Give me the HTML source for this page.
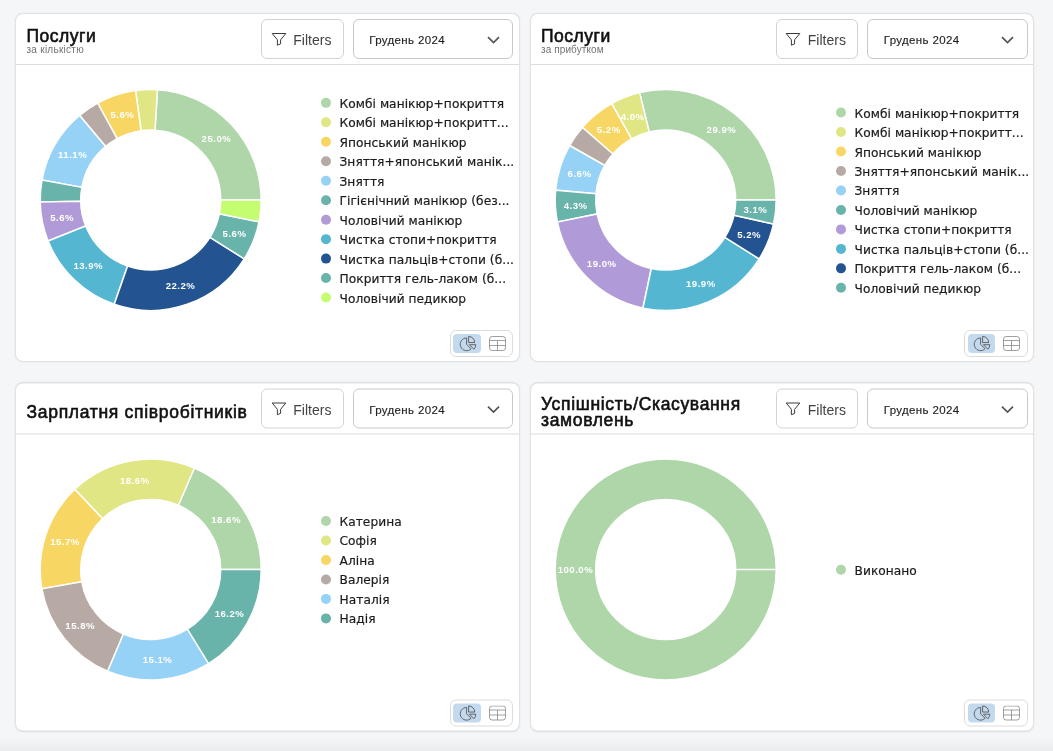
<!DOCTYPE html>
<html lang="uk"><head><meta charset="utf-8"><title>Dashboard</title>
<style>
*{box-sizing:border-box;margin:0;padding:0}
html,body{width:1053px;height:751px;overflow:hidden}
body{background:#f5f6f8;font-family:"Liberation Sans",sans-serif;position:relative;color:#161616}
.fade{position:absolute;left:0;right:0;bottom:0;height:14px;background:linear-gradient(to bottom,rgba(0,0,0,0),rgba(0,0,0,0.045))}
.card{position:absolute;width:504.5px;height:348.5px;background:#fff;border:1px solid #e0e2e5;border-radius:8px;box-shadow:0 0 1.5px rgba(0,0,0,0.10)}
.head{position:absolute;left:0;right:0;top:0;height:51px;border-bottom:1px solid #dcdcdc}
.ht{position:absolute;left:10.5px;top:12.75px}
.title{font-size:17.5px;line-height:18px;font-weight:400;color:#111;-webkit-text-stroke:0.6px #111;letter-spacing:0.5px;white-space:nowrap}
.sub{font-size:10px;line-height:11px;color:#737373;margin-top:-0.7px;letter-spacing:0.27px;white-space:nowrap}
.ht.nosub{top:18.5px}
.ls7{letter-spacing:0.7px}
.ls65{letter-spacing:0.66px}
.title.two{line-height:16px;margin-top:-6.4px}
.btn{position:absolute;left:245px;top:5px;width:82.5px;height:40px;border:1px solid #d3d3d3;border-radius:6px;background:#fff}
.btn .fi{position:absolute;left:8.6px;top:11px}
.btn span{position:absolute;left:31.2px;top:12.1px;font-size:14px;line-height:16px;color:#424242;letter-spacing:0.02px}
.sel{position:absolute;left:336.5px;top:5px;width:160.5px;height:40px;border:1px solid #c8c8c8;border-radius:6px;background:#fff}
.sel span{position:absolute;left:15.8px;top:13px;font-size:11.5px;line-height:14px;color:#1f1f1f;-webkit-text-stroke:0.15px #1f1f1f;letter-spacing:0.35px;white-space:nowrap}
.sel .chev{position:absolute;left:133px;top:15.8px}
.body{position:absolute;left:0;right:0;top:51px;bottom:0}
.chart{position:absolute;left:0;top:0}
.pl{font-family:"Liberation Sans",sans-serif;font-weight:700;font-size:9.6px;fill:#fff;text-anchor:middle;dominant-baseline:central;letter-spacing:0.5px}
.lt{font-family:"DejaVu Sans","Liberation Sans",sans-serif;font-size:12.2px;fill:#1c1c1c;letter-spacing:0.05px;stroke:#1c1c1c;stroke-width:0.2px}
.tog{position:absolute;left:433.5px;top:265px;width:63.5px;height:26.5px;border:1px solid #dcdcdc;border-radius:6px;background:#fff}
.tb{position:absolute;top:2.5px;width:27.5px;height:19.8px;border-radius:4px}
.tb.act{left:2.5px;background:#c3d9ee}
.tb.act svg{position:absolute;left:5.5px;top:1.2px}
.tb+.tb{left:33px}
.tb+.tb svg{position:absolute;left:5px;top:2.5px}
</style></head>
<body>
<div class="card" style="left:15px;top:13px">
<div class="head">
<div class="ht"><div class="title">Послуги</div><div class="sub">за кількістю</div></div>
<div class="btn"><svg class="fi" viewBox="0 0 16 16" width="16" height="16"><path d="M1.2 2.5h13.6L9.6 8.8v4.1l-3.2 1.3V8.8z" fill="none" stroke="#3a3a3a" stroke-width="1" stroke-linejoin="round"/></svg><span>Filters</span></div>
<div class="sel"><span>Грудень 2024</span><svg class="chev" viewBox="0 0 13 8" width="13" height="8"><path d="M1 1.2l5.5 5.3 5.5-5.3" fill="none" stroke="#555" stroke-width="1.7" stroke-linecap="butt"/></svg></div>
</div>
<div class="body">
<svg class="chart" width="502" height="290" viewBox="0 0 502 290">
<path d="M245.20,135.00A110.5,110.5,0,0,0,141.45,24.71L138.97,65.13A70.0,70.0,0,0,1,204.70,135.00Z" fill="#aed6a9" stroke="#fff" stroke-width="1.5" stroke-linejoin="miter"/>
<path d="M141.45,24.71A110.5,110.5,0,0,0,119.53,25.55L125.09,65.66A70.0,70.0,0,0,1,138.97,65.13Z" fill="#e0e684" stroke="#fff" stroke-width="1.5" stroke-linejoin="miter"/>
<path d="M119.53,25.55A110.5,110.5,0,0,0,81.69,38.04L101.12,73.58A70.0,70.0,0,0,1,125.09,65.66Z" fill="#f7d664" stroke="#fff" stroke-width="1.5" stroke-linejoin="miter"/>
<path d="M81.69,38.04A110.5,110.5,0,0,0,63.59,50.42L89.65,81.42A70.0,70.0,0,0,1,101.12,73.58Z" fill="#b7aaa5" stroke="#fff" stroke-width="1.5" stroke-linejoin="miter"/>
<path d="M63.59,50.42A110.5,110.5,0,0,0,26.01,115.07L65.85,122.38A70.0,70.0,0,0,1,89.65,81.42Z" fill="#96d2f6" stroke="#fff" stroke-width="1.5" stroke-linejoin="miter"/>
<path d="M26.01,115.07A110.5,110.5,0,0,0,24.22,136.93L64.71,136.22A70.0,70.0,0,0,1,65.85,122.38Z" fill="#68b4aa" stroke="#fff" stroke-width="1.5" stroke-linejoin="miter"/>
<path d="M24.22,136.93A110.5,110.5,0,0,0,32.09,176.00L69.70,160.97A70.0,70.0,0,0,1,64.71,136.22Z" fill="#b09bd8" stroke="#fff" stroke-width="1.5" stroke-linejoin="miter"/>
<path d="M32.09,176.00A110.5,110.5,0,0,0,98.22,239.30L111.59,201.08A70.0,70.0,0,0,1,69.70,160.97Z" fill="#55b6d2" stroke="#fff" stroke-width="1.5" stroke-linejoin="miter"/>
<path d="M98.22,239.30A110.5,110.5,0,0,0,228.24,193.83L193.96,172.27A70.0,70.0,0,0,1,111.59,201.08Z" fill="#235391" stroke="#fff" stroke-width="1.5" stroke-linejoin="miter"/>
<path d="M228.24,193.83A110.5,110.5,0,0,0,243.02,156.82L203.32,148.82A70.0,70.0,0,0,1,193.96,172.27Z" fill="#68b4aa" stroke="#fff" stroke-width="1.5" stroke-linejoin="miter"/>
<path d="M243.02,156.82A110.5,110.5,0,0,0,245.20,135.00L204.70,135.00A70.0,70.0,0,0,1,203.32,148.82Z" fill="#c4fd6f" stroke="#fff" stroke-width="1.5" stroke-linejoin="miter"/>
<text x="200.44" y="73.16" class="pl">25.0%</text>
<text x="106.40" y="49.30" class="pl">5.6%</text>
<text x="56.67" y="89.65" class="pl">11.1%</text>
<text x="46.23" y="152.82" class="pl">5.6%</text>
<text x="72.29" y="200.19" class="pl">13.9%</text>
<text x="164.50" y="220.19" class="pl">22.2%</text>
<text x="218.51" y="168.48" class="pl">5.6%</text>
<circle cx="310" cy="37.85" r="5" fill="#aed6a9"/><text x="323.5" y="42.85" class="lt">Комбі манікюр+покриття</text>
<circle cx="310" cy="57.32" r="5" fill="#e0e684"/><text x="323.5" y="62.32" class="lt">Комбі манікюр+покритт...</text>
<circle cx="310" cy="76.79" r="5" fill="#f7d664"/><text x="323.5" y="81.79" class="lt">Японський манікюр</text>
<circle cx="310" cy="96.26" r="5" fill="#b7aaa5"/><text x="323.5" y="101.26" class="lt">Зняття+японський манік...</text>
<circle cx="310" cy="115.73" r="5" fill="#96d2f6"/><text x="323.5" y="120.73" class="lt">Зняття</text>
<circle cx="310" cy="135.20" r="5" fill="#68b4aa"/><text x="323.5" y="140.20" class="lt">Гігієнічний манікюр (без...</text>
<circle cx="310" cy="154.67" r="5" fill="#b09bd8"/><text x="323.5" y="159.67" class="lt">Чоловічий манікюр</text>
<circle cx="310" cy="174.14" r="5" fill="#55b6d2"/><text x="323.5" y="179.14" class="lt">Чистка стопи+покриття</text>
<circle cx="310" cy="193.61" r="5" fill="#235391"/><text x="323.5" y="198.61" class="lt">Чистка пальців+стопи (б...</text>
<circle cx="310" cy="213.08" r="5" fill="#68b4aa"/><text x="323.5" y="218.08" class="lt">Покриття гель-лаком (б...</text>
<circle cx="310" cy="232.55" r="5" fill="#c4fd6f"/><text x="323.5" y="237.55" class="lt">Чоловічий педикюр</text>
</svg>
<div class="tog"><div class="tb act"><svg viewBox="0 0 18 18" width="18" height="18"><g fill="none" stroke="#585858" stroke-width="0.9" stroke-linejoin="round"><path d="M7.6 2.95A6.35 6.35 0 1 0 12.09 13.79L7.6 9.3z"/><path d="M9.6 1.45v6.1h6.1a6.1 6.1 0 0 0-6.1-6.1z"/><path d="M10.4 9.7h6.4a6.4 6.4 0 0 1-1.87 4.53z"/></g></svg></div><div class="tb"><svg viewBox="0 0 18 16" width="18" height="16"><g fill="none" stroke="#808080" stroke-width="0.75"><rect x="0.5" y="0.5" width="16" height="14" rx="2.6"/><path d="M0.5 4.5h16M0.5 9.5h16M8.5 4.5v10"/></g></svg></div></div>
</div>
</div>
<div class="card" style="left:529.5px;top:13px">
<div class="head">
<div class="ht"><div class="title">Послуги</div><div class="sub" style="letter-spacing:0.1px">за прибутком</div></div>
<div class="btn"><svg class="fi" viewBox="0 0 16 16" width="16" height="16"><path d="M1.2 2.5h13.6L9.6 8.8v4.1l-3.2 1.3V8.8z" fill="none" stroke="#3a3a3a" stroke-width="1" stroke-linejoin="round"/></svg><span>Filters</span></div>
<div class="sel"><span>Грудень 2024</span><svg class="chev" viewBox="0 0 13 8" width="13" height="8"><path d="M1 1.2l5.5 5.3 5.5-5.3" fill="none" stroke="#555" stroke-width="1.7" stroke-linecap="butt"/></svg></div>
</div>
<div class="body">
<svg class="chart" width="502" height="290" viewBox="0 0 502 290">
<path d="M245.20,135.00A110.5,110.5,0,0,0,108.60,27.63L118.17,66.98A70.0,70.0,0,0,1,204.70,135.00Z" fill="#aed6a9" stroke="#fff" stroke-width="1.5" stroke-linejoin="miter"/>
<path d="M108.60,27.63A110.5,110.5,0,0,0,80.69,38.60L100.49,73.93A70.0,70.0,0,0,1,118.17,66.98Z" fill="#e0e684" stroke="#fff" stroke-width="1.5" stroke-linejoin="miter"/>
<path d="M80.69,38.60A110.5,110.5,0,0,0,51.38,62.42L81.92,89.02A70.0,70.0,0,0,1,100.49,73.93Z" fill="#f7d664" stroke="#fff" stroke-width="1.5" stroke-linejoin="miter"/>
<path d="M51.38,62.42A110.5,110.5,0,0,0,38.56,80.52L73.80,100.49A70.0,70.0,0,0,1,81.92,89.02Z" fill="#b7aaa5" stroke="#fff" stroke-width="1.5" stroke-linejoin="miter"/>
<path d="M38.56,80.52A110.5,110.5,0,0,0,24.64,125.18L64.98,128.78A70.0,70.0,0,0,1,73.80,100.49Z" fill="#96d2f6" stroke="#fff" stroke-width="1.5" stroke-linejoin="miter"/>
<path d="M24.64,125.18A110.5,110.5,0,0,0,26.43,157.07L66.11,148.98A70.0,70.0,0,0,1,64.98,128.78Z" fill="#68b4aa" stroke="#fff" stroke-width="1.5" stroke-linejoin="miter"/>
<path d="M26.43,157.07A110.5,110.5,0,0,0,111.95,243.13L120.29,203.50A70.0,70.0,0,0,1,66.11,148.98Z" fill="#b09bd8" stroke="#fff" stroke-width="1.5" stroke-linejoin="miter"/>
<path d="M111.95,243.13A110.5,110.5,0,0,0,228.18,193.92L193.92,172.32A70.0,70.0,0,0,1,120.29,203.50Z" fill="#55b6d2" stroke="#fff" stroke-width="1.5" stroke-linejoin="miter"/>
<path d="M228.18,193.92A110.5,110.5,0,0,0,242.56,158.99L203.03,150.20A70.0,70.0,0,0,1,193.92,172.32Z" fill="#235391" stroke="#fff" stroke-width="1.5" stroke-linejoin="miter"/>
<path d="M242.56,158.99A110.5,110.5,0,0,0,245.20,135.00L204.70,135.00A70.0,70.0,0,0,1,203.03,150.20Z" fill="#68b4aa" stroke="#fff" stroke-width="1.5" stroke-linejoin="miter"/>
<text x="190.47" y="64.05" class="pl">29.9%</text>
<text x="101.68" y="51.01" class="pl">4.0%</text>
<text x="77.78" y="64.96" class="pl">5.2%</text>
<text x="48.54" y="108.13" class="pl">6.6%</text>
<text x="44.59" y="140.05" class="pl">4.3%</text>
<text x="70.68" y="198.62" class="pl">19.0%</text>
<text x="169.89" y="218.11" class="pl">19.9%</text>
<text x="218.15" y="169.36" class="pl">5.2%</text>
<text x="224.41" y="144.86" class="pl">3.1%</text>
<circle cx="310" cy="47.58" r="5" fill="#aed6a9"/><text x="323.5" y="52.58" class="lt">Комбі манікюр+покриття</text>
<circle cx="310" cy="67.05" r="5" fill="#e0e684"/><text x="323.5" y="72.05" class="lt">Комбі манікюр+покритт...</text>
<circle cx="310" cy="86.52" r="5" fill="#f7d664"/><text x="323.5" y="91.52" class="lt">Японський манікюр</text>
<circle cx="310" cy="105.99" r="5" fill="#b7aaa5"/><text x="323.5" y="110.99" class="lt">Зняття+японський манік...</text>
<circle cx="310" cy="125.46" r="5" fill="#96d2f6"/><text x="323.5" y="130.46" class="lt">Зняття</text>
<circle cx="310" cy="144.94" r="5" fill="#68b4aa"/><text x="323.5" y="149.94" class="lt">Чоловічий манікюр</text>
<circle cx="310" cy="164.40" r="5" fill="#b09bd8"/><text x="323.5" y="169.40" class="lt">Чистка стопи+покриття</text>
<circle cx="310" cy="183.88" r="5" fill="#55b6d2"/><text x="323.5" y="188.88" class="lt">Чистка пальців+стопи (б...</text>
<circle cx="310" cy="203.34" r="5" fill="#235391"/><text x="323.5" y="208.34" class="lt">Покриття гель-лаком (б...</text>
<circle cx="310" cy="222.81" r="5" fill="#68b4aa"/><text x="323.5" y="227.81" class="lt">Чоловічий педикюр</text>
</svg>
<div class="tog"><div class="tb act"><svg viewBox="0 0 18 18" width="18" height="18"><g fill="none" stroke="#585858" stroke-width="0.9" stroke-linejoin="round"><path d="M7.6 2.95A6.35 6.35 0 1 0 12.09 13.79L7.6 9.3z"/><path d="M9.6 1.45v6.1h6.1a6.1 6.1 0 0 0-6.1-6.1z"/><path d="M10.4 9.7h6.4a6.4 6.4 0 0 1-1.87 4.53z"/></g></svg></div><div class="tb"><svg viewBox="0 0 18 16" width="18" height="16"><g fill="none" stroke="#808080" stroke-width="0.75"><rect x="0.5" y="0.5" width="16" height="14" rx="2.6"/><path d="M0.5 4.5h16M0.5 9.5h16M8.5 4.5v10"/></g></svg></div></div>
</div>
</div>
<div class="card" style="left:15px;top:382px;transform:translateY(0.5px)">
<div class="head">
<div class="ht nosub"><div class="title ls7">Зарплатня співробітників</div></div>
<div class="btn"><svg class="fi" viewBox="0 0 16 16" width="16" height="16"><path d="M1.2 2.5h13.6L9.6 8.8v4.1l-3.2 1.3V8.8z" fill="none" stroke="#3a3a3a" stroke-width="1" stroke-linejoin="round"/></svg><span>Filters</span></div>
<div class="sel"><span>Грудень 2024</span><svg class="chev" viewBox="0 0 13 8" width="13" height="8"><path d="M1 1.2l5.5 5.3 5.5-5.3" fill="none" stroke="#555" stroke-width="1.7" stroke-linecap="butt"/></svg></div>
</div>
<div class="body">
<svg class="chart" width="502" height="290" viewBox="0 0 502 290">
<path d="M245.20,135.00A110.5,110.5,0,0,0,178.36,33.49L162.36,70.70A70.0,70.0,0,0,1,204.70,135.00Z" fill="#aed6a9" stroke="#fff" stroke-width="1.5" stroke-linejoin="miter"/>
<path d="M178.36,33.49A110.5,110.5,0,0,0,58.70,54.79L86.55,84.19A70.0,70.0,0,0,1,162.36,70.70Z" fill="#e0e684" stroke="#fff" stroke-width="1.5" stroke-linejoin="miter"/>
<path d="M58.70,54.79A110.5,110.5,0,0,0,25.91,154.36L65.78,147.27A70.0,70.0,0,0,1,86.55,84.19Z" fill="#f7d664" stroke="#fff" stroke-width="1.5" stroke-linejoin="miter"/>
<path d="M25.91,154.36A110.5,110.5,0,0,0,91.66,236.77L107.43,199.47A70.0,70.0,0,0,1,65.78,147.27Z" fill="#b7aaa5" stroke="#fff" stroke-width="1.5" stroke-linejoin="miter"/>
<path d="M91.66,236.77A110.5,110.5,0,0,0,192.64,229.09L171.40,194.61A70.0,70.0,0,0,1,107.43,199.47Z" fill="#96d2f6" stroke="#fff" stroke-width="1.5" stroke-linejoin="miter"/>
<path d="M192.64,229.09A110.5,110.5,0,0,0,245.20,135.00L204.70,135.00A70.0,70.0,0,0,1,171.40,194.61Z" fill="#68b4aa" stroke="#fff" stroke-width="1.5" stroke-linejoin="miter"/>
<text x="210.08" y="85.37" class="pl">18.6%</text>
<text x="118.89" y="46.15" class="pl">18.6%</text>
<text x="48.98" y="106.77" class="pl">15.7%</text>
<text x="64.15" y="191.29" class="pl">15.8%</text>
<text x="141.55" y="224.99" class="pl">15.1%</text>
<text x="213.49" y="179.01" class="pl">16.2%</text>
<circle cx="310" cy="86.52" r="5" fill="#aed6a9"/><text x="323.5" y="91.52" class="lt">Катерина</text>
<circle cx="310" cy="105.99" r="5" fill="#e0e684"/><text x="323.5" y="110.99" class="lt">Софія</text>
<circle cx="310" cy="125.46" r="5" fill="#f7d664"/><text x="323.5" y="130.46" class="lt">Аліна</text>
<circle cx="310" cy="144.94" r="5" fill="#b7aaa5"/><text x="323.5" y="149.94" class="lt">Валерія</text>
<circle cx="310" cy="164.40" r="5" fill="#96d2f6"/><text x="323.5" y="169.40" class="lt">Наталія</text>
<circle cx="310" cy="183.88" r="5" fill="#68b4aa"/><text x="323.5" y="188.88" class="lt">Надія</text>
</svg>
<div class="tog"><div class="tb act"><svg viewBox="0 0 18 18" width="18" height="18"><g fill="none" stroke="#585858" stroke-width="0.9" stroke-linejoin="round"><path d="M7.6 2.95A6.35 6.35 0 1 0 12.09 13.79L7.6 9.3z"/><path d="M9.6 1.45v6.1h6.1a6.1 6.1 0 0 0-6.1-6.1z"/><path d="M10.4 9.7h6.4a6.4 6.4 0 0 1-1.87 4.53z"/></g></svg></div><div class="tb"><svg viewBox="0 0 18 16" width="18" height="16"><g fill="none" stroke="#808080" stroke-width="0.75"><rect x="0.5" y="0.5" width="16" height="14" rx="2.6"/><path d="M0.5 4.5h16M0.5 9.5h16M8.5 4.5v10"/></g></svg></div></div>
</div>
</div>
<div class="card" style="left:529.5px;top:382px;transform:translateY(0.5px)">
<div class="head">
<div class="ht nosub"><div class="title two ls65">Успішність/Скасування<br>замовлень</div></div>
<div class="btn"><svg class="fi" viewBox="0 0 16 16" width="16" height="16"><path d="M1.2 2.5h13.6L9.6 8.8v4.1l-3.2 1.3V8.8z" fill="none" stroke="#3a3a3a" stroke-width="1" stroke-linejoin="round"/></svg><span>Filters</span></div>
<div class="sel"><span>Грудень 2024</span><svg class="chev" viewBox="0 0 13 8" width="13" height="8"><path d="M1 1.2l5.5 5.3 5.5-5.3" fill="none" stroke="#555" stroke-width="1.7" stroke-linecap="butt"/></svg></div>
</div>
<div class="body">
<svg class="chart" width="502" height="290" viewBox="0 0 502 290">
<path d="M245.2,135.0A110.5,110.5,0,1,0,24.19999999999999,135.0A110.5,110.5,0,1,0,245.2,135.0L204.7,135.0A70.0,70.0,0,1,1,64.69999999999999,135.0A70.0,70.0,0,1,1,204.7,135.0Z" fill="#aed6a9" stroke="#fff" stroke-width="1.5" stroke-linejoin="miter"/>
<text x="44.45" y="135.00" class="pl">100.0%</text>
<circle cx="310" cy="135.20" r="5" fill="#aed6a9"/><text x="323.5" y="140.20" class="lt">Виконано</text>
</svg>
<div class="tog"><div class="tb act"><svg viewBox="0 0 18 18" width="18" height="18"><g fill="none" stroke="#585858" stroke-width="0.9" stroke-linejoin="round"><path d="M7.6 2.95A6.35 6.35 0 1 0 12.09 13.79L7.6 9.3z"/><path d="M9.6 1.45v6.1h6.1a6.1 6.1 0 0 0-6.1-6.1z"/><path d="M10.4 9.7h6.4a6.4 6.4 0 0 1-1.87 4.53z"/></g></svg></div><div class="tb"><svg viewBox="0 0 18 16" width="18" height="16"><g fill="none" stroke="#808080" stroke-width="0.75"><rect x="0.5" y="0.5" width="16" height="14" rx="2.6"/><path d="M0.5 4.5h16M0.5 9.5h16M8.5 4.5v10"/></g></svg></div></div>
</div>
</div>
<div class="fade"></div>
</body></html>
